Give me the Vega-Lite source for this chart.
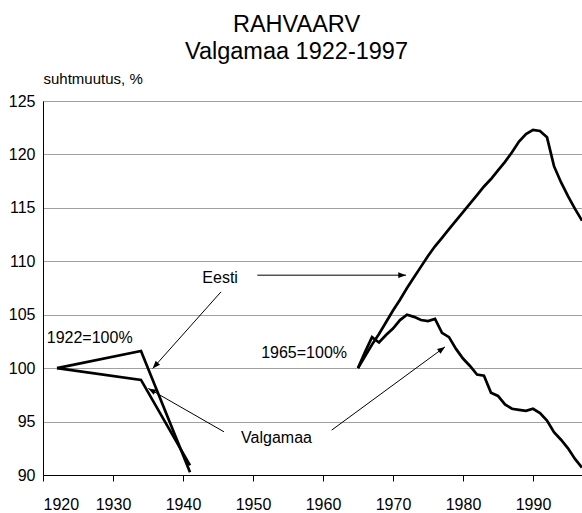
{
  "$schema": "https://vega.github.io/schema/vega-lite/v6.json",
  "width": 539,
  "height": 374,
  "autosize": "none",
  "padding": {"left": 43, "top": 101, "right": 0, "bottom": 38},
  "config": {
    "font": "Liberation Sans",
    "view": {"stroke": null},
    "background": "white"
  },
  "title": {
    "text": ["RAHVAARV", "Valgamaa 1922-1997"],
    "fontSize": 23.5,
    "fontWeight": "normal",
    "font": "Liberation Sans",
    "color": "black",
    "lineHeight": 27,
    "anchor": "middle",
    "dx": -16,
    "dy": -4
  },
  "datasets": {
    "series": [
      {"region": "Eesti", "period": "1922", "year": 1922, "value": 100},
      {"region": "Eesti", "period": "1922", "year": 1934, "value": 101.6},
      {"region": "Eesti", "period": "1922", "year": 1941, "value": 90.25},
      {"region": "Valgamaa", "period": "1922", "year": 1922, "value": 100},
      {"region": "Valgamaa", "period": "1922", "year": 1934, "value": 98.9},
      {"region": "Valgamaa", "period": "1922", "year": 1941, "value": 90.9},
      {"region": "Eesti", "period": "1965", "year": 1965, "value": 100},
      {"region": "Eesti", "period": "1965", "year": 1966, "value": 101.1},
      {"region": "Eesti", "period": "1965", "year": 1967, "value": 102.2},
      {"region": "Eesti", "period": "1965", "year": 1968, "value": 103.2},
      {"region": "Eesti", "period": "1965", "year": 1969, "value": 104.3},
      {"region": "Eesti", "period": "1965", "year": 1970, "value": 105.4},
      {"region": "Eesti", "period": "1965", "year": 1971, "value": 106.4},
      {"region": "Eesti", "period": "1965", "year": 1972, "value": 107.5},
      {"region": "Eesti", "period": "1965", "year": 1973, "value": 108.5},
      {"region": "Eesti", "period": "1965", "year": 1974, "value": 109.5},
      {"region": "Eesti", "period": "1965", "year": 1975, "value": 110.5},
      {"region": "Eesti", "period": "1965", "year": 1976, "value": 111.4},
      {"region": "Eesti", "period": "1965", "year": 1977, "value": 112.2},
      {"region": "Eesti", "period": "1965", "year": 1978, "value": 113.0},
      {"region": "Eesti", "period": "1965", "year": 1979, "value": 113.8},
      {"region": "Eesti", "period": "1965", "year": 1980, "value": 114.6},
      {"region": "Eesti", "period": "1965", "year": 1981, "value": 115.4},
      {"region": "Eesti", "period": "1965", "year": 1982, "value": 116.2},
      {"region": "Eesti", "period": "1965", "year": 1983, "value": 117.0},
      {"region": "Eesti", "period": "1965", "year": 1984, "value": 117.7},
      {"region": "Eesti", "period": "1965", "year": 1985, "value": 118.5},
      {"region": "Eesti", "period": "1965", "year": 1986, "value": 119.3},
      {"region": "Eesti", "period": "1965", "year": 1987, "value": 120.2},
      {"region": "Eesti", "period": "1965", "year": 1988, "value": 121.2},
      {"region": "Eesti", "period": "1965", "year": 1989, "value": 121.9},
      {"region": "Eesti", "period": "1965", "year": 1990, "value": 122.3},
      {"region": "Eesti", "period": "1965", "year": 1991, "value": 122.2},
      {"region": "Eesti", "period": "1965", "year": 1992, "value": 121.6},
      {"region": "Eesti", "period": "1965", "year": 1993, "value": 118.9},
      {"region": "Eesti", "period": "1965", "year": 1994, "value": 117.4},
      {"region": "Eesti", "period": "1965", "year": 1995, "value": 116.1},
      {"region": "Eesti", "period": "1965", "year": 1996, "value": 114.9},
      {"region": "Eesti", "period": "1965", "year": 1997, "value": 113.8},
      {"region": "Valgamaa", "period": "1965", "year": 1965, "value": 100},
      {"region": "Valgamaa", "period": "1965", "year": 1966, "value": 101.5},
      {"region": "Valgamaa", "period": "1965", "year": 1967, "value": 102.9},
      {"region": "Valgamaa", "period": "1965", "year": 1968, "value": 102.4},
      {"region": "Valgamaa", "period": "1965", "year": 1969, "value": 103.1},
      {"region": "Valgamaa", "period": "1965", "year": 1970, "value": 103.7},
      {"region": "Valgamaa", "period": "1965", "year": 1971, "value": 104.5},
      {"region": "Valgamaa", "period": "1965", "year": 1972, "value": 105.0},
      {"region": "Valgamaa", "period": "1965", "year": 1973, "value": 104.8},
      {"region": "Valgamaa", "period": "1965", "year": 1974, "value": 104.5},
      {"region": "Valgamaa", "period": "1965", "year": 1975, "value": 104.4},
      {"region": "Valgamaa", "period": "1965", "year": 1976, "value": 104.6},
      {"region": "Valgamaa", "period": "1965", "year": 1977, "value": 103.3},
      {"region": "Valgamaa", "period": "1965", "year": 1978, "value": 102.9},
      {"region": "Valgamaa", "period": "1965", "year": 1979, "value": 101.8},
      {"region": "Valgamaa", "period": "1965", "year": 1980, "value": 100.9},
      {"region": "Valgamaa", "period": "1965", "year": 1981, "value": 100.2},
      {"region": "Valgamaa", "period": "1965", "year": 1982, "value": 99.4},
      {"region": "Valgamaa", "period": "1965", "year": 1983, "value": 99.3},
      {"region": "Valgamaa", "period": "1965", "year": 1984, "value": 97.7},
      {"region": "Valgamaa", "period": "1965", "year": 1985, "value": 97.4},
      {"region": "Valgamaa", "period": "1965", "year": 1986, "value": 96.6},
      {"region": "Valgamaa", "period": "1965", "year": 1987, "value": 96.2},
      {"region": "Valgamaa", "period": "1965", "year": 1988, "value": 96.1},
      {"region": "Valgamaa", "period": "1965", "year": 1989, "value": 96.0},
      {"region": "Valgamaa", "period": "1965", "year": 1990, "value": 96.2},
      {"region": "Valgamaa", "period": "1965", "year": 1991, "value": 95.8},
      {"region": "Valgamaa", "period": "1965", "year": 1992, "value": 95.1},
      {"region": "Valgamaa", "period": "1965", "year": 1993, "value": 94.0},
      {"region": "Valgamaa", "period": "1965", "year": 1994, "value": 93.3},
      {"region": "Valgamaa", "period": "1965", "year": 1995, "value": 92.5},
      {"region": "Valgamaa", "period": "1965", "year": 1996, "value": 91.5},
      {"region": "Valgamaa", "period": "1965", "year": 1997, "value": 90.7}
    ],
    "arrows": [
      {"id": "a1", "year": 1945.43, "value": 107.14, "year2": 1935.67, "value2": 99.97},
      {"id": "a2", "year": 1950.62, "value": 108.7, "year2": 1971.86, "value2": 108.7},
      {"id": "a3", "year": 1945.86, "value": 94.04, "year2": 1935.05, "value2": 98.1},
      {"id": "a4", "year": 1961.24, "value": 94.2, "year2": 1977.43, "value2": 101.99}
    ],
    "labels": [
      {"text": "1922=100%", "year": 1926.67, "value": 102.81},
      {"text": "1965=100%", "year": 1957.3, "value": 101.4},
      {"text": "Eesti", "year": 1945.3, "value": 108.44},
      {"text": "Valgamaa", "year": 1953.36, "value": 93.42}
    ]
  },
  "data": {"name": "series"},
  "encoding": {
    "x": {
      "field": "year", "type": "quantitative",
      "scale": {"domain": [1920, 1997], "nice": false, "zero": false},
      "axis": {
        "title": null,
        "values": [1920, 1930, 1940, 1950, 1960, 1970, 1980, 1990],
        "format": "d",
        "grid": false,
        "domainColor": "black",
        "domainWidth": 1,
        "tickColor": "black",
        "tickSize": 6,
        "labelPadding": 15,
        "labelFontSize": 16,
        "labelColor": "black",
        "labelFont": "Liberation Sans"
      }
    },
    "y": {
      "field": "value", "type": "quantitative",
      "scale": {"domain": [90, 125], "nice": false, "zero": false},
      "axis": {
        "title": "suhtmuutus, %",
        "titleAngle": 0,
        "titleAlign": "left",
        "titleBaseline": "alphabetic",
        "titleX": 0,
        "titleY": -18,
        "titleFontSize": 15,
        "titleFontWeight": "normal",
        "titleColor": "black",
        "titleFont": "Liberation Sans",
        "values": [90, 95, 100, 105, 110, 115, 120, 125],
        "grid": true,
        "gridColor": "#404040",
        "gridDash": [1, 1],
        "gridWidth": 1,
        "domainColor": "black",
        "domainWidth": 1,
        "ticks": false,
        "labelPadding": 8,
        "labelFontSize": 16,
        "labelColor": "black",
        "labelFont": "Liberation Sans"
      }
    }
  },
  "layer": [
    {
      "data": {"values": [{}]},
      "mark": {"type": "rule", "color": "black", "strokeWidth": 1},
      "encoding": {
        "x": {"datum": 1920, "type": "quantitative"},
        "x2": {"datum": 1997},
        "y": {"datum": 125, "type": "quantitative"}
      }
    },
    {
      "mark": {"type": "line", "color": "black", "strokeWidth": 2.7, "strokeJoin": "miter"},
      "encoding": {
        "detail": [{"field": "region"}, {"field": "period"}],
        "order": {"field": "year", "type": "quantitative"}
      }
    },
    {
      "data": {"name": "arrows"},
      "mark": {"type": "rule", "color": "black", "strokeWidth": 1},
      "encoding": {
        "x2": {"field": "year2"},
        "y2": {"field": "value2"}
      }
    },
    {
      "data": {"name": "arrows"},
      "transform": [{"filter": "datum.id === 'a1'"}],
      "mark": {"type": "point", "filled": true, "color": "black", "opacity": 1, "shape": "M0,0L-0.38,1L0.38,1Z", "size": 240, "strokeWidth": 0, "angle": 221.7},
      "encoding": {
        "x": {"field": "year2", "type": "quantitative"},
        "y": {"field": "value2", "type": "quantitative"}
      }
    },
    {
      "data": {"name": "arrows"},
      "transform": [{"filter": "datum.id === 'a2'"}],
      "mark": {"type": "point", "filled": true, "color": "black", "opacity": 1, "shape": "M0,0L-0.38,1L0.38,1Z", "size": 240, "strokeWidth": 0, "angle": 90},
      "encoding": {
        "x": {"field": "year2", "type": "quantitative"},
        "y": {"field": "value2", "type": "quantitative"}
      }
    },
    {
      "data": {"name": "arrows"},
      "transform": [{"filter": "datum.id === 'a3'"}],
      "mark": {"type": "point", "filled": true, "color": "black", "opacity": 1, "shape": "M0,0L-0.38,1L0.38,1Z", "size": 240, "strokeWidth": 0, "angle": 299.7},
      "encoding": {
        "x": {"field": "year2", "type": "quantitative"},
        "y": {"field": "value2", "type": "quantitative"}
      }
    },
    {
      "data": {"name": "arrows"},
      "transform": [{"filter": "datum.id === 'a4'"}],
      "mark": {"type": "point", "filled": true, "color": "black", "opacity": 1, "shape": "M0,0L-0.38,1L0.38,1Z", "size": 240, "strokeWidth": 0, "angle": 53.7},
      "encoding": {
        "x": {"field": "year2", "type": "quantitative"},
        "y": {"field": "value2", "type": "quantitative"}
      }
    },
    {
      "data": {"name": "labels"},
      "mark": {"type": "text", "fontSize": 16, "font": "Liberation Sans", "color": "black", "align": "center", "baseline": "middle"},
      "encoding": {
        "text": {"field": "text"}
      }
    }
  ]
}
